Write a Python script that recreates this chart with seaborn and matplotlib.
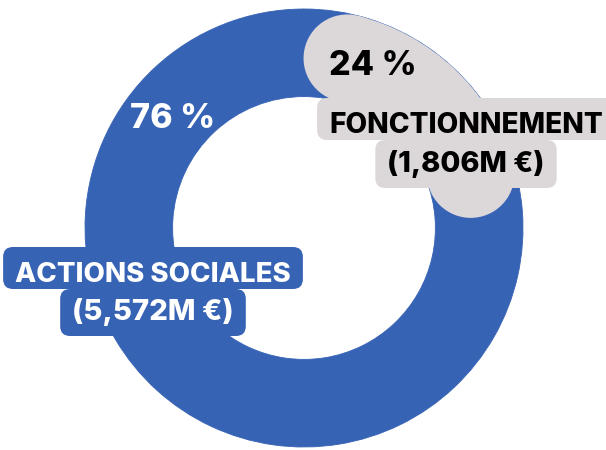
import numpy as np
import matplotlib
matplotlib.use("Agg")
import matplotlib.pyplot as plt
import seaborn as sns
from matplotlib.patches import Wedge, Circle, FancyBboxPatch

# -----------------------------------------------------------------------------
# Data
# -----------------------------------------------------------------------------
categories = ["ACTIONS SOCIALES", "FONCTIONNEMENT"]
amounts = ["(5,572M €)", "(1,806M €)"]
shares = [76, 24]
share_labels = ["76 %", "24 %"]

# -----------------------------------------------------------------------------
# Plotting attributes
# -----------------------------------------------------------------------------
sns.set_theme(style="white")
plt.rcParams["font.family"] = ["Inter", "DejaVu Sans"]

blue = "#3763B5"
grey = "#DCD8D9"
ring = 0.4          # ring width (fraction of radius)
W, H = 606, 450     # figure size in px
R = 219             # outer radius in px
cx, cy = 304, 228   # ring centre in px (from top-left)


def to_data(x, y):
    # image pixel -> data coordinates
    return (x - cx) / R, (cy - y) / R


fig = plt.figure(figsize=(W / 100, H / 100), dpi=100)
ax = fig.add_axes([(cx - R) / W, (H - cy - R) / H, 2 * R / W, 2 * R / H])

# Blue ring underneath
ax.pie(shares, colors=[blue, blue], startangle=90, counterclock=False, radius=1,
       wedgeprops=dict(width=ring, edgecolor=blue, linewidth=0.6))
ax.set_xlim(-1, 1)
ax.set_ylim(-1, 1)
ax.set_aspect("equal")
ax.axis("off")

# Grey slice with rounded ends
sweep = 360 * shares[1] / sum(shares)
mid_r = 1 - ring / 2
cap = np.degrees((ring / 2) / mid_r)
a_start = 90 - cap
a_end = 90 - sweep + cap
ax.add_patch(Wedge((0, 0), 1, a_end, a_start, width=ring, facecolor=grey,
                   edgecolor="none", zorder=2))
for a in (a_start, a_end):
    ax.add_patch(Circle((mid_r * np.cos(np.radians(a)), mid_r * np.sin(np.radians(a))),
                        ring / 2, facecolor=grey, edgecolor="none", zorder=2))

# Percentages
pct_font = dict(weight=800, fontsize=24.5)
ax.text(*to_data(173, 128), share_labels[0], color="white", ha="center", va="baseline",
        zorder=5, **pct_font)
ax.text(*to_data(373, 75), share_labels[1], color="black", ha="center", va="baseline",
        zorder=5, **pct_font)

# Category labels with per-line rounded backgrounds
# (name, amount, x centre, baselines, font sizes, colours)
labels = [
    (categories[0], amounts[0], 153, 282, 320, 19.9, 21.2, blue, "white"),
    (categories[1], amounts[1], 466, 133, 172, 20.2, 20.9, grey, "black"),
]
fig.canvas.draw()
renderer = fig.canvas.get_renderer()
for name, amount, xc, b1, b2, fs1, fs2, bg, fg in labels:
    t1 = ax.text(*to_data(xc, b1), name, color=fg, ha="center", va="baseline",
                 zorder=5, weight=800, fontsize=fs1)
    t2 = ax.text(*to_data(xc, b2), amount, color=fg, ha="center", va="baseline",
                 zorder=5, weight=800, fontsize=fs2)
    rows = [(t1, b1 - 35, b1 + 7), (t2, b1 + 7, b2 + 16)]
    for t, top, bottom in rows:
        ext = t.get_window_extent(renderer)
        x0 = ext.x0 - 12
        x1 = ext.x1 + 12
        dx0, dy0 = to_data(x0, bottom)
        dx1, dy1 = to_data(x1, top)
        ax.add_patch(FancyBboxPatch((dx0, dy0), dx1 - dx0, dy1 - dy0,
                                    boxstyle="round,pad=0,rounding_size=0.045",
                                    facecolor=bg, edgecolor="none", zorder=4, clip_on=False))

plt.savefig("out.png", dpi=100)
